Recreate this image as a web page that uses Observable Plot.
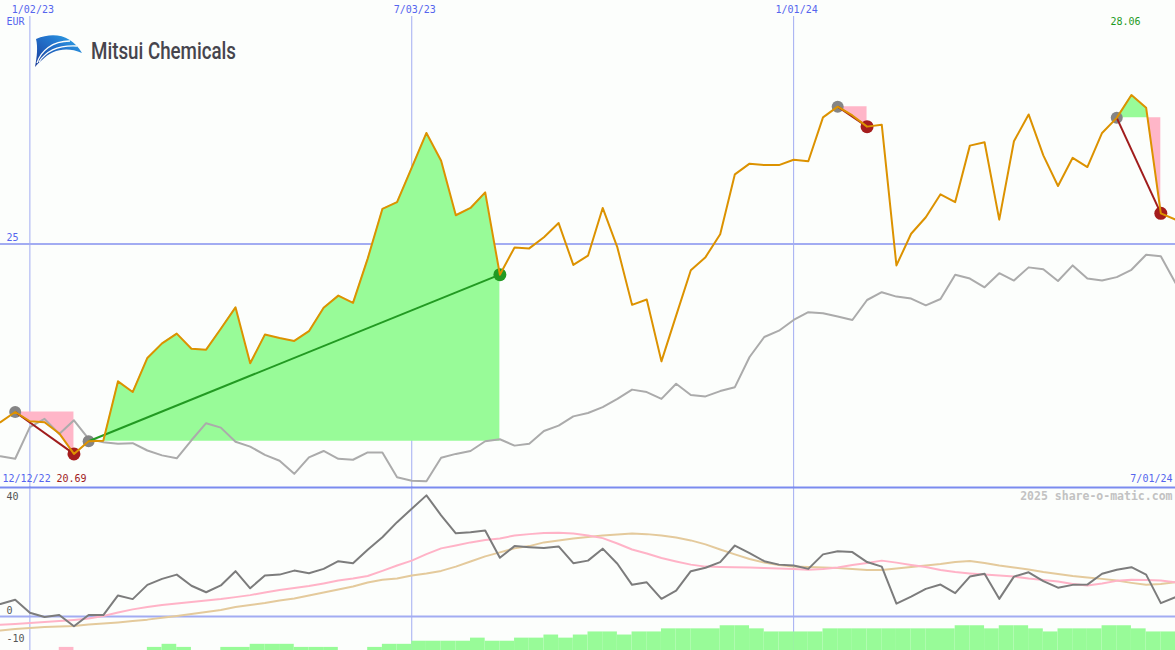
<!DOCTYPE html>
<html>
<head>
<meta charset="utf-8">
<script src="https://cdn.jsdelivr.net/npm/d3@7"></script>
<script src="https://cdn.jsdelivr.net/npm/@observablehq/plot@0.6"></script>
<style>
  html, body { margin: 0; padding: 0; background: #fcfefc; overflow: hidden; }
  #chart { position: relative; width: 1175px; height: 650px; background: #fcfefc; overflow: hidden; }
  #chart > svg { position: absolute; left: 0; }
</style>
</head>
<body>
<div id="chart"></div>
<script>
// Weekly closing price, EUR (first week starting 19 Dec 2022)
const price = [
  21.34, 21.55, 21.36, 21.34, 21.11, 20.69, 20.95, 20.96, 22.18, 21.96,
  22.66, 22.96, 23.16, 22.85, 22.83, 23.26, 23.70, 22.55, 23.14, 23.07,
  23.01, 23.21, 23.69, 23.94, 23.79, 24.70, 25.72, 25.86, 26.57, 27.28,
  26.71, 25.59, 25.74, 26.06, 24.37, 24.93, 24.91, 25.14, 25.43, 24.57,
  24.76, 25.74, 24.93, 23.75, 23.86, 22.59, 23.53, 24.46, 24.73, 25.20,
  26.43, 26.65, 26.62, 26.62, 26.73, 26.70, 27.60, 27.82, 27.64, 27.41,
  27.45, 24.56, 25.21, 25.55, 26.02, 25.86, 27.02, 27.09, 25.50, 27.11,
  27.66, 26.82, 26.19, 26.77, 26.58, 27.28, 27.59, 28.06, 27.80, 25.63,
  25.50
];

// Benchmark index rebased to the same EUR scale
const benchmark = [
  20.64, 20.59, 21.24, 21.41, 21.10, 21.38, 21.00, 20.93, 20.90, 20.91,
  20.76, 20.66, 20.60, 20.97, 21.32, 21.23, 20.94, 20.84, 20.67, 20.55,
  20.28, 20.62, 20.75, 20.59, 20.57, 20.72, 20.72, 20.21, 20.14, 20.13,
  20.61, 20.69, 20.75, 20.95, 20.99, 20.86, 20.90, 21.16, 21.27, 21.46,
  21.53, 21.65, 21.82, 22.01, 21.96, 21.82, 22.13, 21.90, 21.87, 21.98,
  22.06, 22.68, 23.09, 23.22, 23.44, 23.60, 23.58, 23.51, 23.44, 23.85,
  24.01, 23.92, 23.88, 23.74, 23.87, 24.37, 24.29, 24.11, 24.40, 24.25,
  24.52, 24.48, 24.24, 24.56, 24.29, 24.25, 24.32, 24.47, 24.78, 24.75,
  24.20
];

// Momentum oscillator (%)
const momentum = [
  4.4, 5.9, 1.3, -0.2, 0.5, -3.4, 0.5, 0.5, 7.4, 6.1,
  11.1, 13.2, 14.7, 10.8, 8.5, 10.9, 15.9, 9.9, 14.4, 14.7,
  16.1, 15.2, 16.7, 19.4, 18.7, 23.4, 27.8, 33.1, 37.8, 42.5,
  35.5, 29.2, 29.6, 30.2, 20.6, 24.7, 24.3, 24.0, 24.6, 18.7,
  19.6, 23.8, 18.5, 11.1, 12.0, 6.2, 9.1, 15.9, 17.1, 19.1,
  24.9, 22.2, 19.4, 18.2, 17.9, 16.7, 21.8, 22.9, 22.6, 19.1,
  17.5, 4.5, 7.0, 9.7, 11.2, 8.2, 14.0, 15.0, 6.2, 14.0,
  15.5, 12.4, 10.1, 11.1, 11.2, 15.0, 16.4, 17.3, 14.7, 4.7,
  6.8
];

// Fast average of the momentum
const fastAvg = [
  -2.9, -2.6, -2.3, -1.9, -1.6, -1.2, -0.7, 0.2, 1.4, 2.5,
  3.3, 4.0, 4.6, 5.1, 5.6, 6.1, 6.8, 7.5, 8.4, 9.3,
  10.0, 10.7, 11.6, 12.6, 13.3, 14.2, 16.0, 17.9, 19.6, 21.9,
  23.9, 24.9, 26.0, 26.8, 27.4, 28.4, 28.9, 29.3, 29.4, 29.1,
  28.4, 27.5, 25.6, 23.5, 22.1, 20.5, 19.3, 18.2, 17.5, 17.4,
  17.3, 17.2, 17.0, 16.8, 16.7, 16.4, 16.7, 17.2, 18.1, 18.8,
  19.6, 18.9, 18.1, 17.4, 16.3, 15.6, 15.1, 14.7, 14.4, 14.0,
  13.3, 12.8, 12.3, 11.4, 10.9, 11.6, 12.5, 12.9, 12.8, 12.6,
  12.0
];

// Slow average of the momentum
const slowAvg = [
  -4.9, -4.4, -4.0, -3.7, -3.5, -3.3, -2.8, -2.5, -2.1, -1.6,
  -1.1, -0.4, 0.2, 0.9, 1.6, 2.3, 3.3, 4.0, 4.7, 5.6,
  6.3, 7.4, 8.4, 9.5, 10.5, 11.9, 12.9, 13.3, 14.4, 15.1,
  16.0, 17.5, 19.3, 21.1, 22.5, 23.9, 24.7, 26.0, 26.7, 27.4,
  27.9, 28.4, 28.8, 29.1, 28.9, 28.4, 27.7, 26.7, 25.3, 23.5,
  21.8, 20.2, 18.9, 18.1, 17.5, 17.4, 17.2, 17.0, 16.7, 16.3,
  16.3, 16.8, 17.4, 17.9, 18.4, 19.1, 19.5, 18.8, 17.9, 17.2,
  16.5, 15.6, 14.9, 14.2, 13.7, 13.2, 12.6, 11.8, 11.1, 11.4,
  12.0
];

// Weekly strength histogram (one bar per week interval; negative = weak)
const strength = [
  0, 0, 0, 0, -1, 0, 0, 0, 0, 0,
  1, 2, 1, 0, 0, 1, 1, 2, 2, 2,
  1, 1, 1, 0, 0, 1, 2, 2, 3, 3,
  3, 3, 4, 3, 3, 4, 4, 5, 4, 5,
  6, 6, 5, 6, 6, 7, 7, 7, 7, 8,
  8, 7, 6, 6, 6, 6, 7, 7, 7, 7,
  7, 7, 7, 7, 7, 8, 8, 7, 8, 8,
  7, 6, 7, 7, 7, 8, 8, 7, 6, 6
];

// Signal pairs: entry week index -> exit week index
const signalFrom = [1, 6, 57, 76];
const signalTo = [5, 34, 59, 79];

// Labels
const gridDateStrings = ["2023-01-02", "2023-07-03", "2024-01-01"];
const periodLabels = ["12/12/22", "7/01/24"];
const currency = "EUR";
const priceTicks = [25];
const momentumTicks = [40, 0, -10];
const watermark = "2025 share-o-matic.com";
const companyName = "Mitsui Chemicals";

// ---- derived structures ----
const W = 1175;
const mono = "DejaVu Sans Mono, monospace";
const labelBlue = "#5565ee";
const gridColor = "#a2acf2";
const green = "#98fb98";
const pink = "#ffb6c8";

const firstWeek = new Date(Date.UTC(2022, 11, 19));
const weeks = price.map((_, i) => d3.utcDay.offset(firstWeek, 7 * i));
const gridDates = gridDateStrings.map(s => new Date(s + "T00:00:00Z"));
const fmt = d3.utcFormat("%-m/%d/%y");

const rows = weeks.map((date, i) => ({
  date, price: price[i], bench: benchmark[i],
  mom: momentum[i], fast: fastAvg[i], slow: slowAvg[i]
}));

const trades = signalFrom.map((a, k) => {
  const b = signalTo[k];
  return {d0: weeks[a], p0: price[a], d1: weeks[b], p1: price[b], up: price[b] > price[a]};
});

// Area between the entry level and the price path, split where it crosses the level
const fills = [];
signalFrom.forEach((a, k) => {
  const b = signalTo[k];
  const level = price[a];
  let id = 0, cur = null;
  for (let i = a; i <= b; i++) {
    const v = price[i];
    const up = v >= level;
    if (cur && cur.up !== up) {
      const pv = price[i - 1];
      const t = (level - pv) / (v - pv);
      const xc = new Date(+weeks[i - 1] + t * (weeks[i] - weeks[i - 1]));
      cur.pts.push({date: xc, value: level});
      cur = {up, level, pts: [{date: xc, value: level}], id: `${k}-${++id}`};
      fills.push(cur);
    }
    if (!cur) { cur = {up, level, pts: [], id: `${k}-${id}`}; fills.push(cur); }
    cur.pts.push({date: weeks[i], value: v});
  }
});
const fillRows = fills.flatMap(f => f.pts.map(p => ({...p, level: f.level, id: f.id, fill: f.up ? green : pink})));

const maxIndex = d3.maxIndex(price);
const minIndex = d3.minIndex(price);

const xScale = {type: "utc", domain: [weeks[0], weeks[weeks.length - 1]], axis: null};
const chart = document.getElementById("chart");

// ---- price panel ----
const main = Plot.plot({
  width: W, height: 487, margin: 0,
  x: xScale,
  y: {domain: [20, 30], axis: null},
  style: {background: "transparent", overflow: "visible"},
  marks: [
    Plot.ruleX(gridDates, {stroke: gridColor, strokeWidth: 1, insetTop: 16}),
    Plot.ruleY(priceTicks, {stroke: gridColor, strokeWidth: 2}),
    Plot.areaY(fillRows, {x: "date", y1: "level", y2: "value", z: "id", fill: "fill", curve: "linear"}),
    Plot.line(rows, {x: "date", y: "bench", stroke: "#ababab", strokeWidth: 2}),
    Plot.dot(trades, {x: "d0", y: "p0", r: 6, fill: "#858585"}),
    Plot.dot(trades, {x: "d1", y: "p1", r: 6.5, fill: d => d.up ? "#229a22" : "#a51d1d"}),
    Plot.link(trades, {x1: "d0", y1: "p0", x2: "d1", y2: "p1", stroke: d => d.up ? "#229a22" : "#a01c1c", strokeWidth: 2}),
    Plot.line(rows, {x: "date", y: "price", stroke: "#dc9200", strokeWidth: 2}),
    Plot.text(gridDates, {x: d => d, text: d => fmt(d), frameAnchor: "top", lineAnchor: "middle", dy: 9, dx: 3, fill: labelBlue, fontFamily: mono, fontSize: 10}),
    Plot.text([currency], {text: d => d, frameAnchor: "top-left", lineAnchor: "middle", dx: 6, dy: 21, fill: labelBlue, fontFamily: mono, fontSize: 10}),
    Plot.text(priceTicks, {y: d => d, text: d => String(d), frameAnchor: "left", lineAnchor: "middle", dx: 6, dy: -6, fill: labelBlue, fontFamily: mono, fontSize: 10}),
    Plot.text([maxIndex], {x: i => weeks[i], text: i => price[i].toFixed(2), frameAnchor: "top", lineAnchor: "middle", dy: 21, dx: -6, fill: "#1f9a1f", fontFamily: mono, fontSize: 10}),
    Plot.text([periodLabels[0]], {text: d => d, frameAnchor: "bottom-left", lineAnchor: "middle", dx: 2, dy: -9, fill: labelBlue, fontFamily: mono, fontSize: 10}),
    Plot.text([minIndex], {text: i => price[i].toFixed(2), frameAnchor: "bottom-left", lineAnchor: "middle", dx: 56, dy: -9, fill: "#a01c1c", fontFamily: mono, fontSize: 10}),
    Plot.text([periodLabels[1]], {text: d => d, frameAnchor: "bottom-right", lineAnchor: "middle", dx: -3, dy: -9, fill: labelBlue, fontFamily: mono, fontSize: 10})
  ]
});
main.style.top = "0px";
chart.appendChild(main);

// ---- momentum panel ----
const momentumDomain = [-11.93, 45.61];
const lower = Plot.plot({
  width: W, height: 164, margin: 0,
  x: xScale,
  y: {domain: momentumDomain, axis: null},
  style: {background: "transparent", overflow: "visible"},
  marks: [
    Plot.ruleX(gridDates, {stroke: gridColor, strokeWidth: 1}),
    Plot.ruleY([0], {stroke: gridColor, strokeWidth: 2}),
    Plot.ruleY([momentumDomain[1]], {stroke: "#7b8bef", strokeWidth: 2, dy: 1}),
    Plot.line(rows, {x: "date", y: "slow", stroke: "#e4ca9c", strokeWidth: 2}),
    Plot.line(rows, {x: "date", y: "fast", stroke: "#ffb3c7", strokeWidth: 2}),
    Plot.line(rows, {x: "date", y: "mom", stroke: "#7c7c7c", strokeWidth: 2}),
    Plot.text(momentumTicks, {y: d => d, text: d => String(d), frameAnchor: "left", lineAnchor: "middle", dx: 6, dy: -6, fill: "#555555", fontFamily: mono, fontSize: 10}),
    Plot.text([watermark], {text: d => d, frameAnchor: "top-right", lineAnchor: "middle", dx: -3, dy: 10, fill: "#c2c2c2", fontFamily: mono, fontSize: 11.5, fontWeight: "bold"})
  ]
});
lower.style.top = "486px";
chart.appendChild(lower);

// ---- strength histogram strip ----
const barRows = strength.map((v, j) => ({start: weeks[j], end: weeks[j + 1], v}));
const bars = Plot.plot({
  width: W, height: 30, margin: 0,
  x: xScale,
  y: {domain: [0, 9.7], axis: null},
  style: {background: "transparent", overflow: "visible"},
  marks: [
    Plot.rect(barRows, {x1: "start", x2: "end", y1: 0, y2: d => Math.abs(d.v), fill: d => d.v < 0 ? pink : green})
  ]
});
bars.style.top = "620px";
chart.appendChild(bars);

// ---- company logo ----
const ns = "http://www.w3.org/2000/svg";
const logo = document.createElementNS(ns, "svg");
logo.setAttribute("width", 340);
logo.setAttribute("height", 80);
logo.style.top = "0px";
logo.style.overflow = "visible";
logo.innerHTML = `
  <defs>
    <linearGradient id="sail" x1="0" y1="1" x2="1" y2="0">
      <stop offset="0" stop-color="#1c3d9a"/>
      <stop offset="0.6" stop-color="#2377cf"/>
      <stop offset="1" stop-color="#31aee9"/>
    </linearGradient>
  </defs>
  <path d="M35,67 C37,57 38,47 36,39 C55,31 72,36 82,53 C66,46 52,50 42,60 C39,62 37,65 35,67 Z" fill="url(#sail)"/>
  <path d="M37,63 C41,51 52,41 70,41" fill="none" stroke="#fcfefc" stroke-width="1.3"/>
  <path d="M39,62 C46,51 58,45 77,46" fill="none" stroke="#fcfefc" stroke-width="1.3"/>
  <text x="91" y="59" font-family="Roboto, sans-serif" font-weight="500" font-size="24"
        textLength="145" lengthAdjust="spacingAndGlyphs" fill="#46454d">${companyName}</text>`;
chart.appendChild(logo);
</script>
</body>
</html>
